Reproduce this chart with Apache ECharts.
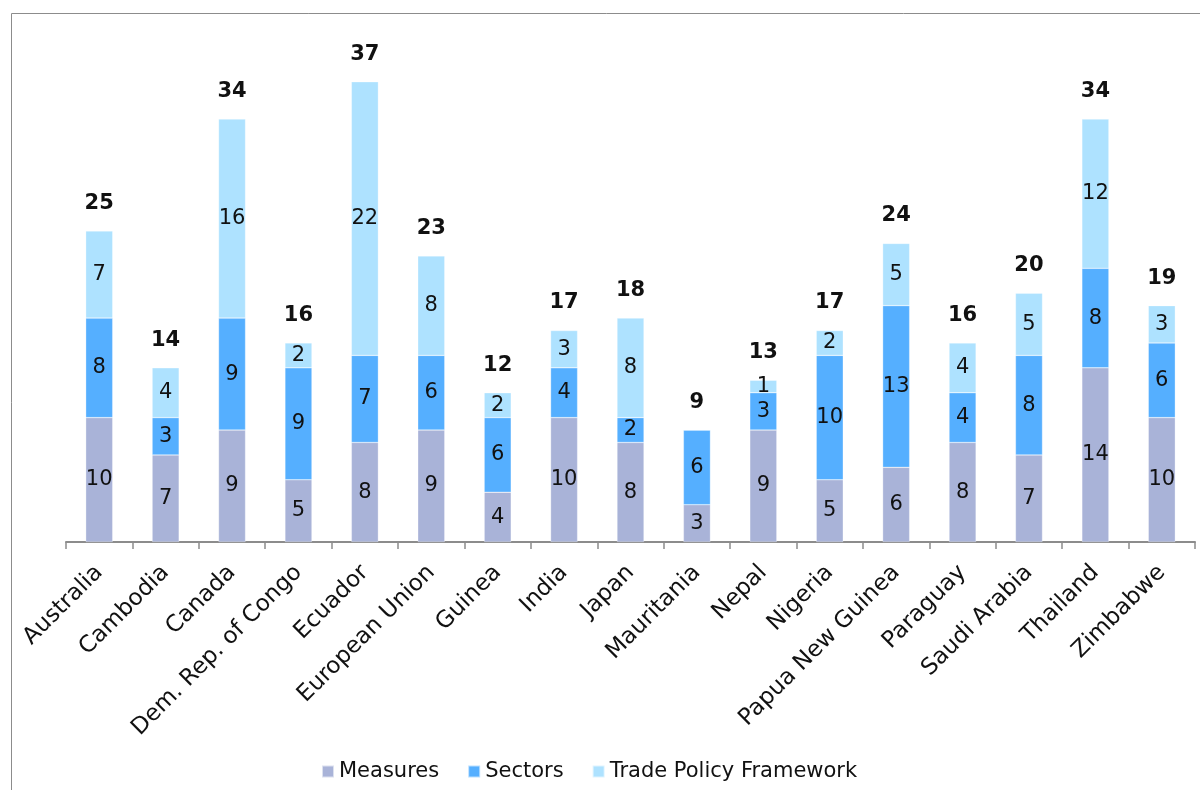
<!DOCTYPE html>
<html>
<head>
<meta charset="utf-8">
<script src="https://cdn.jsdelivr.net/npm/echarts@6/dist/echarts.min.js"></script>
<style>html,body{margin:0;padding:0;background:#fff}#c{width:1200px;height:790px}</style>
</head>
<body>
<div id="c"></div>
<script>
const categories = ["Australia","Cambodia","Canada","Dem. Rep. of Congo","Ecuador","European Union","Guinea","India","Japan","Mauritania","Nepal","Nigeria","Papua New Guinea","Paraguay","Saudi Arabia","Thailand","Zimbabwe"];
const measures = [10,7,9,5,8,9,4,10,8,3,9,5,6,8,7,14,10];
const sectors = [8,3,9,9,7,6,6,4,2,6,3,10,13,4,8,8,6];
const tradePolicy = [7,4,16,2,22,8,2,3,8,0,1,2,5,4,5,12,3];
const totals = categories.map((c,i)=>measures[i]+sectors[i]+tradePolicy[i]);

const FONT = '"DejaVu Sans", Verdana, sans-serif';
const chart = echarts.init(document.getElementById('c'));
const inLabel = {show:true, position:'inside', color:'#111', fontSize:21, fontFamily:FONT,
  formatter: p => p.value ? String(p.value) : ''};
const mk = (name, data, color) => ({
  name, type:'bar', stack:'t', data, barWidth:27,
  itemStyle:{color, borderColor:'rgba(255,255,255,0.6)', borderWidth:0.5},
  label: inLabel, emphasis:{disabled:true}
});
chart.setOption({
  animation:false,
  graphic:[{type:'rect', shape:{x:11.5,y:13.5,width:1300,height:900}, style:{fill:'none', stroke:'#8c8c8c', lineWidth:1}, silent:true}],
  grid:{left:66, right:5, top:44.4, bottom:248},
  xAxis:{type:'category', data:categories, boundaryGap:true,
    axisLine:{lineStyle:{color:'#8c8c8c', width:2}},
    axisTick:{show:true, length:7, lineStyle:{color:'#8c8c8c', width:1.5}},
    axisLabel:{rotate:45, interval:0, color:'#111', fontSize:23, fontFamily:FONT, margin:27}},
  yAxis:{type:'value', min:0, max:40, show:false, splitLine:{show:false}},
  legend:{data:['Measures','Sectors','Trade Policy Framework'], bottom:8, left:321, padding:0,
    itemWidth:12, itemHeight:12, itemGap:28, icon:'rect',
    textStyle:{fontSize:21, fontFamily:FONT, color:'#111'}},
  series:[
    mk('Measures', measures, '#A9B3D8'),
    mk('Sectors', sectors, '#55AFFF'),
    mk('Trade Policy Framework', tradePolicy, '#AEE2FF'),
    {name:'Total', type:'bar', data:totals, barWidth:27, barGap:'-100%', z:1,
      itemStyle:{color:'rgba(0,0,0,0)'}, emphasis:{disabled:true}, silent:true,
      label:{show:true, position:'top', distance:17, color:'#111', fontSize:21, fontWeight:'bold', fontFamily:FONT}}
  ]
});
</script>
</body>
</html>
